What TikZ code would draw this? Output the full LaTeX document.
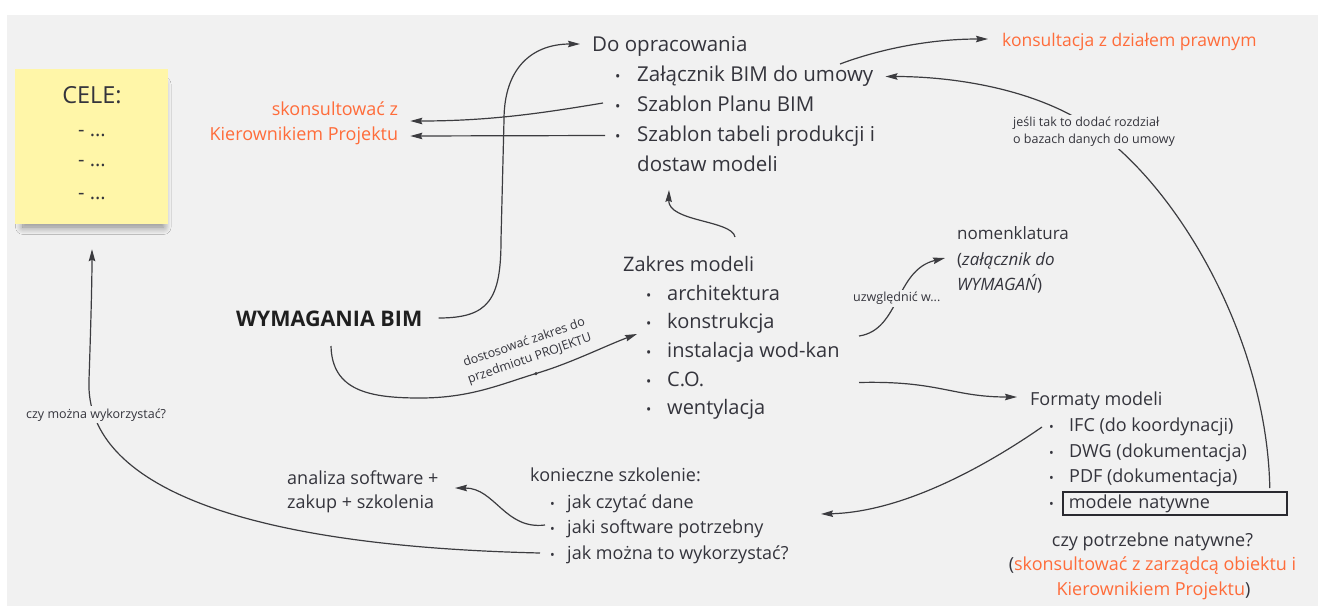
\documentclass[tikz,border=0pt]{standalone}
\usepackage{fontspec}
\setmainfont{Open Sans}
\usetikzlibrary{arrows.meta,calc,shadows.blur}
\definecolor{bg}{RGB}{241,241,241}
\definecolor{ink}{RGB}{52,52,60}
\definecolor{accent}{RGB}{255,108,58}
\definecolor{wire}{RGB}{60,60,64}
\definecolor{paper}{RGB}{255,246,168}
% small list bullet followed by a fixed indent
\newcommand\bul[1]{\makebox[#1][l]{\scalebox{0.7}{•}}}
\newcommand\fs[1]{\fontsize{#1}{#1}\selectfont}

\begin{document}
\begin{tikzpicture}[x=1pt,y=-1pt,
  every node/.style={inner sep=0pt, text=ink},
  fA/.style={font=\fs{20.5}, anchor=base west},
  fB/.style={font=\fs{20}, anchor=base west},
  fC/.style={font=\fs{18}, anchor=base west},
  fD/.style={font=\fs{17}, anchor=base west},
  tag/.style={font=\fontsize{12.5}{17.3}\selectfont, fill=bg, inner sep=2pt, align=left},
  arr/.style={draw=wire, line width=1.2pt, -{Stealth[length=12pt,width=6.5pt,inset=1.5pt]}},
]
\useasboundingbox (0,0) rectangle (1318,606);
\fill[bg] (7,15) rectangle (1318,606);

% sticky note with goals, soft shadow falling below it
\node[fill=paper, minimum width=153, minimum height=155,
      blur shadow={shadow xshift=2pt, shadow yshift=-10pt, shadow scale=0.92,
                   shadow blur radius=8pt, shadow blur steps=16, shadow opacity=45}]
      (note) at (91.5,146.5) {};
\node[font=\fs{23.5}, anchor=base] (celeT) at (92,103.3) {CELE:};
\node[font=\fs{20}, anchor=base] (g1) at (92,136) {- ...};
\node[font=\fs{20}, anchor=base] (g2) at (92,166.7) {- ...};
\node[font=\fs{20}, anchor=base] (g3) at (92,199) {- ...};

% central topic
\node[font=\fs{21.5}\bfseries, anchor=base west, text=black!88] (wym) at (236,326) {WYMAGANIA BIM};

% documents to prepare
\node[fA] (doop) at (592,51.5) {Do opracowania};
\node[fA] (a1) at (615,81.5) {\bul{22pt}Załącznik BIM do umowy};
\node[fA] (a2) at (615,111.5) {\bul{22pt}Szablon Planu BIM};
\node[fA] (a3) at (615,141.5) {\bul{22pt}Szablon tabeli produkcji i};
\node[fA] (a4) at (637,171.5) {dostaw modeli};

\node[fC, anchor=base east, text=accent] (sk1) at (398.3,115.7) {skonsultować z};
\node[fC, anchor=base east, text=accent] (sk2) at (398.3,140.7) {Kierownikiem Projektu};
\node[font=\fs{17.5}, anchor=base west, text=accent] (kp) at (1002,46) {konsultacja z działem prawnym};

% model scope
\node[fB] (zak) at (623,271.5) {Zakres modeli};
\node[fB] (b1) at (646,300) {\bul{21pt}architektura};
\node[fB] (b2) at (646,328.7) {\bul{21pt}konstrukcja};
\node[fB] (b3) at (646,357.3) {\bul{21pt}instalacja wod-kan};
\node[fB] (b4) at (646,386) {\bul{21pt}C.O.};
\node[fB] (b5) at (646,414.7) {\bul{21pt}wentylacja};

% naming
\node[fD] (nom1) at (957,239.3) {nomenklatura};
\node[fD] (nom2) at (957,265) {(\textit{załącznik do}};
\node[fD] (nom3) at (957,290) {\textit{WYMAGAŃ})};

% model formats
\node[fC] (fmt) at (1030,405) {Formaty modeli};
\node[fC] (c1) at (1049,431) {\bul{20pt}IFC (do koordynacji)};
\node[fC] (c2) at (1049,457.3) {\bul{20pt}DWG (dokumentacja)};
\node[fC] (c3) at (1049,482.7) {\bul{20pt}PDF (dokumentacja)};
\node[fC] (c4dot) at (1049,508.3) {\scalebox{0.7}{•}};
\node[draw=ink!80!black, line width=1.8pt, anchor=north west, minimum width=224, minimum height=23,
      text width=212, inner xsep=6, inner ysep=0, align=left, font=\fs{18}] (c4) at (1062,491) {modele natywne};

\node[font=\fs{18}, anchor=base] (q1) at (1152.5,546) {czy potrzebne natywne?};
\node[font=\fs{18}, anchor=base] (q2) at (1152.5,570) {(\textcolor{accent}{skonsultować z zarządcą obiektu i}};
\node[font=\fs{18}, anchor=base] (q3) at (1153.5,595) {\textcolor{accent}{Kierownikiem Projektu})};

% training
\node[fC] (kon) at (530,481.7) {konieczne szkolenie:};
\node[fC] (d1) at (550,508.3) {\bul{17pt}jak czytać dane};
\node[fC] (d2) at (550,533.3) {\bul{17pt}jaki software potrzebny};
\node[fC] (d3) at (550,559) {\bul{17pt}jak można to wykorzystać?};

\node[fC] (an1) at (287,484) {analiza software +};
\node[fC] (an2) at (287,508.3) {zakup + szkolenia};

% anchor dot of the scope label
\node[circle, fill=wire, minimum size=3.5pt] (ldot) at (536,373.5) {};

% connectors
\draw[arr] ($(wym.base east)+(16,-8)$) .. controls +(50,0) and +(0,60) .. (501,240)
  -- (504,120) .. controls +(0,-55) and +(-45,0) .. ($(doop.base west)+(-12,-7.5)$);
\draw[arr] ($(a2.base west)+(-12,-8.5)$) .. controls +(-60,10) and +(80,0) .. ($(sk1.base east)+(12,5.3)$);
\draw[arr] ($(a3.base west)+(-10,-6)$) -- ($(sk2.base east)+(12,-4.7)$);
\draw[arr] ($(a1.base west)+(225,-17.5)$) .. controls +(40,-15) and +(-58,0) .. ($(kp.base west)+(-14,-7)$);
\draw[arr] ($(c4.north east)+(-18,-3)$) .. controls +(-3,-148) and +(85,60) .. (1095,130)
  .. controls +(-55,-40) and +(71,0) .. ($(a1.base east)+(12,-5)$);
\draw[arr] ($(zak.base west)+(112,-34.5)$) .. controls +(-3,-17) and +(-1,32) .. ($(a4.base west)+(32,18.5)$);
\draw[arr] ($(wym.base west)+(95,20)$) .. controls +(1,45) and +(-50,0) .. (420,398)
  .. controls +(50,0) and +(-36,11) .. (ldot.center)
  .. controls +(34,-10) and +(-32,12) .. ($(b2.base west)+(-9,5.3)$);
\draw[arr] ($(b3.base west)+(213,-21.3)$) .. controls +(41,-6) and +(-50,12) .. ($(nom2.base west)+(-12,-7)$);
\draw[arr] ($(b4.base west)+(213,-3.5)$) .. controls +(80,-2) and +(-65,0) .. ($(fmt.base west)+(-13,-8)$);
\draw[arr] ($(c1.base west)+(-7,-4)$) .. controls +(-62,43) and +(79,-2) .. ($(d2.base west)+(271,-19.3)$);
\draw[arr] ($(d2.base west)+(-5,-8.3)$) .. controls +(-40,5) and +(40,0) .. ($(an1.base west)+(168,4)$);
\draw[arr] ($(d3.base west)+(-10,-6)$) .. controls +(-340,-8) and +(-4,90) .. (89,380)
  .. controls +(2,-60) and +(0,31) .. ($(note.south)+(0.5,25)$);

% connector labels
\node[tag, anchor=west] (t1) at (1011,132) {jeśli tak to dodać rozdział\\o bazach danych do umowy};
\node[tag, anchor=base west] (t2) at (851,301.7) {uzwględnić w...};
\node[tag, anchor=base west] (t3) at (24,418) {czy można wykorzystać?};
\node[font=\fontsize{12.5}{17}\selectfont, rotate=19, align=center] (t4) at (527,351)
  {dostosować zakres do\\przedmiotu PROJEKTU};
\end{tikzpicture}
\end{document}
